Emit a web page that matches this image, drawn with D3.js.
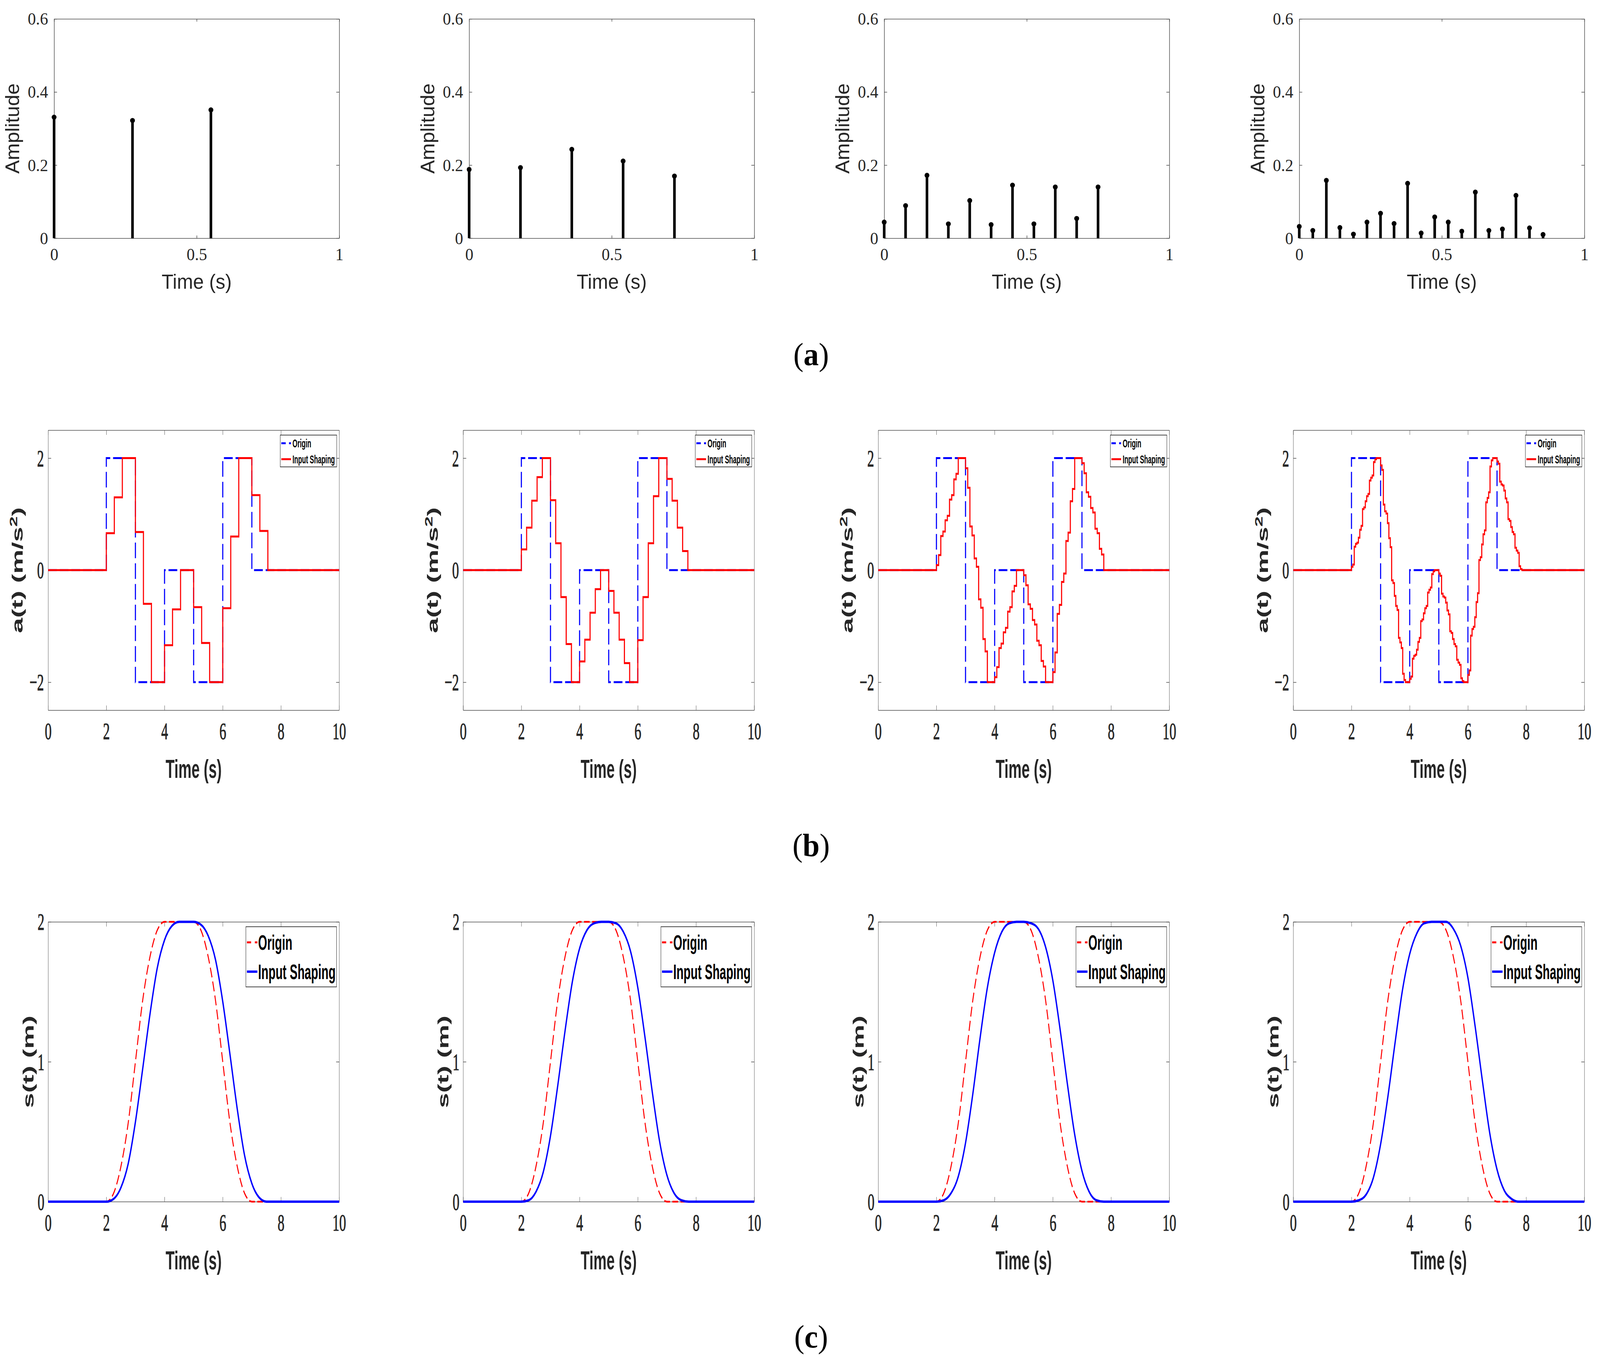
<!DOCTYPE html>
<html>
<head>
<meta charset="utf-8">
<script src="https://cdn.jsdelivr.net/npm/d3@7"></script>
<style>
  html, body { margin: 0; padding: 0; width: 100%; height: 100%; overflow: hidden; background: #fff; }
  #chart { width: 100vw; height: 100vh; }
</style>
</head>
<body>
<div id="chart"></div>
<script>
var W = 4304
var H = 3481

// ---------- data ----------
// (a) impulse sequences of the four shapers
var impulseTimes = [
  [0, 0.275, 0.55],
  [0, 0.18, 0.36, 0.54, 0.72],
  [0, 0.075, 0.15, 0.225, 0.3, 0.375, 0.45, 0.525, 0.6, 0.675, 0.75],
  [0, 0.0475, 0.095, 0.1425, 0.19, 0.2375, 0.285, 0.3325, 0.38, 0.4275, 0.475,
   0.5225, 0.57, 0.6175, 0.665, 0.7125, 0.76, 0.8075, 0.855]
]
var impulseAmps = [
  [0.331, 0.322, 0.351],
  [0.188, 0.193, 0.243, 0.211, 0.170],
  [0.044, 0.089, 0.172, 0.039, 0.103, 0.037, 0.145, 0.039, 0.140, 0.054, 0.140],
  [0.032, 0.021, 0.158, 0.029, 0.011, 0.044, 0.068, 0.040, 0.150, 0.014,
   0.058, 0.044, 0.019, 0.126, 0.021, 0.025, 0.117, 0.028, 0.010]
]
var ampTicks = [0, 0.2, 0.4, 0.6]
var impTimeTicks = [0, 0.5, 1]

// (b) acceleration: origin profile and shaped levels (one level per impulse, per edge at t = 2..7)
var accTimes = [0, 2, 3, 4, 5, 6, 7, 10]
var accOrigin = [0, 2, -2, 0, -2, 2, 0, 0]
var accShaped1 = [
  0.66, 1.30, 2,
  0.68, -0.60, -2,
  -1.34, -0.70, 0,
  -0.66, -1.30, -2,
  -0.68, 0.60, 2,
  1.34, 0.70, 0
]
var accShaped2 = [
  0.37, 0.76, 1.24, 1.66, 2,
  1.25, 0.48, -0.48, -1.32, -2,
  -1.63, -1.24, -0.76, -0.34, 0,
  -0.37, -0.76, -1.24, -1.66, -2,
  -1.25, -0.48, 0.48, 1.32, 2,
  1.63, 1.24, 0.76, 0.34, 0
]
var accShaped3 = [
  0.09, 0.27, 0.61, 0.69, 0.89, 0.97, 1.26, 1.34, 1.62, 1.72, 2,
  1.82, 1.47, 0.78, 0.62, 0.21, 0.06, -0.52, -0.67, -1.23, -1.45, -2,
  -1.91, -1.73, -1.39, -1.31, -1.11, -1.03, -0.74, -0.66, -0.38, -0.28, 0,
  -0.09, -0.27, -0.61, -0.69, -0.89, -0.97, -1.26, -1.34, -1.62, -1.72, -2,
  -1.82, -1.47, -0.78, -0.62, -0.21, -0.06, 0.52, 0.67, 1.23, 1.45, 2,
  1.91, 1.73, 1.39, 1.31, 1.11, 1.03, 0.74, 0.66, 0.38, 0.28, 0
]
var accShaped4 = [
  0.06, 0.10, 0.42, 0.47, 0.49, 0.58, 0.72, 0.79, 1.09, 1.12, 1.23, 1.32, 1.36, 1.60, 1.65, 1.69, 1.93, 1.98, 2,
  1.87, 1.79, 1.17, 1.05, 1.01, 0.84, 0.57, 0.41, -0.18, -0.23, -0.46, -0.64, -0.71, -1.21, -1.29, -1.39, -1.85, -1.96, -2,
  -1.94, -1.90, -1.58, -1.53, -1.51, -1.42, -1.28, -1.21, -0.91, -0.88, -0.77, -0.68, -0.64, -0.40, -0.35, -0.31, -0.07, -0.02, 0,
  -0.06, -0.10, -0.42, -0.47, -0.49, -0.58, -0.72, -0.79, -1.09, -1.12, -1.23, -1.32, -1.36, -1.60, -1.65, -1.69, -1.93, -1.98, -2,
  -1.87, -1.79, -1.17, -1.05, -1.01, -0.84, -0.57, -0.41, 0.18, 0.23, 0.46, 0.64, 0.71, 1.21, 1.29, 1.39, 1.85, 1.96, 2,
  1.94, 1.90, 1.58, 1.53, 1.51, 1.42, 1.28, 1.21, 0.91, 0.88, 0.77, 0.68, 0.64, 0.40, 0.35, 0.31, 0.07, 0.02, 0
]
var accShaped = [accShaped1, accShaped2, accShaped3, accShaped4]
var accTicks = [-2, 0, 2]
var timeTicks = [0, 2, 4, 6, 8, 10]

// (c) position
var posTimes = [0, 2, 2.25, 2.5, 2.75, 3, 3.25, 3.5, 3.75, 4, 4.25, 4.5, 4.75, 5,
  5.25, 5.5, 5.75, 6, 6.25, 6.5, 6.75, 7, 7.25, 7.5, 7.75, 8, 10]
var posOrigin = [0, 0, 0.06, 0.25, 0.56, 1.0, 1.44, 1.75, 1.94, 2, 2, 2, 2, 2,
  1.94, 1.75, 1.44, 1.0, 0.56, 0.25, 0.06, 0, 0, 0, 0, 0, 0]
var posShaped1 = [0, 0, 0.02, 0.10, 0.27, 0.57, 0.95, 1.34, 1.67, 1.87, 1.97, 2.0, 2, 2,
  1.98, 1.90, 1.73, 1.43, 1.05, 0.66, 0.33, 0.13, 0.03, 0, 0, 0, 0]
var posShaped2 = [0, 0, 0.01, 0.07, 0.21, 0.47, 0.83, 1.22, 1.57, 1.81, 1.94, 1.99, 2, 2,
  1.99, 1.93, 1.79, 1.53, 1.17, 0.78, 0.43, 0.19, 0.06, 0.01, 0, 0, 0]
var posShaped3 = [0, 0, 0.01, 0.06, 0.18, 0.42, 0.77, 1.17, 1.53, 1.78, 1.93, 1.99, 2, 2,
  1.99, 1.95, 1.82, 1.58, 1.23, 0.84, 0.48, 0.22, 0.07, 0.01, 0, 0, 0]
var posShaped4 = [0, 0, 0.01, 0.05, 0.17, 0.41, 0.75, 1.14, 1.51, 1.77, 1.92, 1.99, 2, 2,
  2, 1.95, 1.83, 1.60, 1.25, 0.86, 0.49, 0.23, 0.08, 0.02, 0, 0, 0]
var posShaped = [posShaped1, posShaped2, posShaped3, posShaped4]
var posTicks = [0, 1, 2]

var legendLabels = ["Origin", "Input Shaping"]
var captions = ["a", "b", "c"]

// ---------- layout ----------
var SX = 0.59   // rows (b) and (c) are squeezed horizontally in the original figure
var rowA = { x0: [145.5, 1262, 2378.5, 3495], w: 767, top: 48.3, bottom: 609.7 }
var rowB = { x0: [129.4, 1245.9, 2362.4, 3478.9], w: 783, top: 1100.9, bottom: 1817.8 }
var rowC = { x0: [129.4, 1245.9, 2362.4, 3478.9], w: 783, top: 2359.5, bottom: 3075.8 }
var captionY = [935, 2191, 3449]

var axisColor = "#4d4d4d"
var textColor = "#262626"
var sansFont = "'Liberation Sans', Arial, Helvetica, sans-serif"
var serifFont = "'Liberation Serif', 'Times New Roman', serif"
var fmt = d3.format("~g")

// the drawing is laid out on a 4304 x 3481 grid and stretched to fill the window
var svg = d3.select("#chart").append("svg")
    .attr("viewBox", "0 0 " + W + " " + H)
    .attr("preserveAspectRatio", "none")
    .attr("width", "100%")
    .attr("height", "100%")
    .style("display", "block")
    .style("background", "#fff")

// box with inward ticks on all four sides, labels on left / bottom
function drawFrame(g, x, y, o) {
  var yb = y.range()[0], yt = y.range()[1]
  var xl = x.range()[0], xr = x.range()[1]

  var bottom = g.append("g").attr("transform", "translate(0," + yb + ")")
      .call(d3.axisBottom(x).tickValues(o.xTicks).tickFormat(fmt).tickSizeInner(-o.xTickLen).tickSizeOuter(0))
  bottom.selectAll(".tick text").attr("y", o.xLabelOff).attr("dy", "0.35em")

  var top = g.append("g").attr("transform", "translate(0," + yt + ")")
      .call(d3.axisTop(x).tickValues(o.xTicks).tickFormat("").tickSizeInner(-o.xTickLen).tickSizeOuter(0))

  var left = g.append("g").attr("transform", "translate(" + xl + ",0)")
      .call(d3.axisLeft(y).tickValues(o.yTicks).tickFormat(fmt).tickSizeInner(-o.yTickLen).tickSizeOuter(0))
  left.selectAll(".tick text").attr("x", -o.yLabelGap).attr("dy", "0.33em")

  var right = g.append("g").attr("transform", "translate(" + xr + ",0)")
      .call(d3.axisRight(y).tickValues(o.yTicks).tickFormat("").tickSizeInner(-o.yTickLen).tickSizeOuter(0))

  ;[bottom, top, left, right].forEach(function (a) {
    a.attr("font-family", serifFont).attr("font-size", o.fontSize)
    a.select(".domain").attr("stroke", axisColor).attr("stroke-width", o.lw)
    a.selectAll(".tick line").attr("stroke", axisColor).attr("stroke-width", o.lw)
    a.selectAll(".tick text")
        .attr("fill", textColor)
        .attr("stroke", o.textStroke ? textColor : null)
        .attr("stroke-width", o.textStroke || null)
  })
}

function drawLegend(g, right, top, o, entries) {
  var left = right - o.w
  var lg = g.append("g")
  lg.append("rect")
      .attr("x", left).attr("y", top)
      .attr("width", o.w).attr("height", o.h)
      .attr("fill", "#fff")
      .attr("stroke", "#1a1a1a")
      .attr("stroke-width", o.boxLw)
  entries.forEach(function (e, i) {
    var ly = top + o.rowY[i]
    lg.append("line")
        .attr("x1", left + o.lineX[0]).attr("x2", left + o.lineX[1])
        .attr("y1", ly).attr("y2", ly)
        .attr("stroke", e.color)
        .attr("stroke-width", e.width)
        .attr("stroke-dasharray", e.dash)
    lg.append("text")
        .attr("x", left + o.textX)
        .attr("y", ly + o.baseOff)
        .attr("font-family", sansFont)
        .attr("font-size", o.fontSize)
        .attr("font-weight", "bold")
        .attr("fill", "#000")
        .text(e.label)
  })
}

// ---------- row (a): stem plots ----------
rowA.x0.forEach(function (x0, p) {
  var g = svg.append("g")
  var x = d3.scaleLinear().domain([0, 1]).range([x0, x0 + rowA.w])
  var y = d3.scaleLinear().domain([0, 0.6]).range([rowA.bottom, rowA.top])

  drawFrame(g, x, y, {
    xTicks: impTimeTicks, yTicks: ampTicks,
    xTickLen: 7, yTickLen: 8, xLabelOff: 41, yLabelGap: 16,
    fontSize: 44, lw: 1.5
  })

  var stems = impulseTimes[p].map(function (t, i) { return [t, impulseAmps[p][i]] })
  g.selectAll(".stem").data(stems).enter().append("line")
      .attr("x1", function (d) { return x(d[0]) })
      .attr("x2", function (d) { return x(d[0]) })
      .attr("y1", y(0))
      .attr("y2", function (d) { return y(d[1]) })
      .attr("stroke", "#000")
      .attr("stroke-width", 7)
  g.selectAll(".dot").data(stems).enter().append("circle")
      .attr("cx", function (d) { return x(d[0]) })
      .attr("cy", function (d) { return y(d[1]) })
      .attr("r", 6.5)
      .attr("fill", "#000")

  g.append("text")
      .attr("x", x0 + rowA.w / 2).attr("y", 739)
      .attr("text-anchor", "middle")
      .attr("font-family", sansFont).attr("font-size", 52)
      .attr("fill", textColor)
      .text("Time (s)")
  var ly = (rowA.top + rowA.bottom) / 2
  g.append("text")
      .attr("transform", "translate(" + (x0 - 94) + "," + ly + ") rotate(-90)")
      .attr("text-anchor", "middle")
      .attr("font-family", sansFont).attr("font-size", 52)
      .attr("fill", textColor)
      .text("Amplitude")
})

// ---------- row (b): acceleration ----------
var gB = svg.append("g").attr("transform", "scale(" + SX + ",1)")
rowB.x0.forEach(function (x0r, p) {
  var x0 = x0r / SX, w = rowB.w / SX
  var g = gB.append("g")
  var x = d3.scaleLinear().domain([0, 10]).range([x0, x0 + w])
  var y = d3.scaleLinear().domain([-2.5, 2.5]).range([rowB.bottom, rowB.top])

  drawFrame(g, x, y, {
    xTicks: timeTicks, yTicks: accTicks,
    xTickLen: 12, yTickLen: 14, xLabelOff: 53, yLabelGap: 19,
    fontSize: 62, lw: 1.5, textStroke: 1.2
  })

  var line = d3.line()
      .x(function (d) { return x(d[0]) })
      .y(function (d) { return y(d[1]) })
      .curve(d3.curveStepAfter)

  var origin = accTimes.map(function (t, i) { return [t, accOrigin[i]] })
  var taus = impulseTimes[p]
  var shaped = [[0, 0]]
  accTimes.slice(1, 7).forEach(function (T, j) {
    taus.forEach(function (tau, k) { shaped.push([T + tau, accShaped[p][j * taus.length + k]]) })
  })
  shaped.push([10, 0])

  g.append("path").datum(origin)
      .attr("d", line)
      .attr("fill", "none")
      .attr("stroke", "#0000ff")
      .attr("stroke-width", 5)
      .attr("stroke-dasharray", "40,13")
  g.append("path").datum(shaped)
      .attr("d", line)
      .attr("fill", "none")
      .attr("stroke", "#ff0000")
      .attr("stroke-width", 5)

  drawLegend(g, x0 + w - 11.2, rowB.top + 12.7, {
    w: 257.6, h: 81.4, rowY: [21, 61.7], lineX: [5, 49], textX: 56,
    fontSize: 29, baseOff: 10.5, boxLw: 1.6
  }, [
    { label: legendLabels[0], color: "#0000ff", width: 5, dash: "20,15" },
    { label: legendLabels[1], color: "#ff0000", width: 5, dash: null }
  ])

  g.append("text")
      .attr("x", x0 + w / 2).attr("y", rowB.bottom + 173)
      .attr("text-anchor", "middle")
      .attr("font-family", sansFont).attr("font-size", 67)
      .attr("font-weight", "bold")
      .attr("fill", textColor)
      .text("Time (s)")
  var ly = (rowB.top + rowB.bottom) / 2
  var yl = g.append("text")
      .attr("transform", "translate(" + (x0 - 116) + "," + ly + ") rotate(-90)")
      .attr("text-anchor", "middle")
      .attr("font-family", sansFont).attr("font-size", 70)
      .attr("font-weight", "bold")
      .attr("fill", textColor)
  yl.append("tspan").text("a(t) (m/s")
  yl.append("tspan").attr("font-size", 48).attr("dy", -25).text("2")
  yl.append("tspan").attr("dy", 25).text(")")
})

// ---------- row (c): position ----------
var gC = svg.append("g").attr("transform", "scale(" + SX + ",1)")
rowC.x0.forEach(function (x0r, p) {
  var x0 = x0r / SX, w = rowC.w / SX
  var g = gC.append("g")
  var x = d3.scaleLinear().domain([0, 10]).range([x0, x0 + w])
  var y = d3.scaleLinear().domain([0, 2]).range([rowC.bottom, rowC.top])

  drawFrame(g, x, y, {
    xTicks: timeTicks, yTicks: posTicks,
    xTickLen: 12, yTickLen: 14, xLabelOff: 53, yLabelGap: 17,
    fontSize: 62, lw: 1.5, textStroke: 1.2
  })

  var line = d3.line()
      .x(function (d) { return x(d[0]) })
      .y(function (d) { return y(d[1]) })
      .curve(d3.curveMonotoneX)

  var origin = posTimes.map(function (t, i) { return [t, posOrigin[i]] })
  var shaped = posTimes.map(function (t, i) { return [t, posShaped[p][i]] })

  g.append("path").datum(origin)
      .attr("d", line)
      .attr("fill", "none")
      .attr("stroke", "#ff0000")
      .attr("stroke-width", 4.5)
      .attr("stroke-dasharray", "26,11")
  g.append("path").datum(shaped)
      .attr("d", line)
      .attr("fill", "none")
      .attr("stroke", "#0000ff")
      .attr("stroke-width", 6)

  drawLegend(g, x0 + w - 11.9, rowC.top + 12.5, {
    w: 413.6, h: 154, rowY: [40, 115], lineX: [5, 52.5], textX: 56,
    fontSize: 53, baseOff: 19, boxLw: 1.6
  }, [
    { label: legendLabels[0], color: "#ff0000", width: 5, dash: "19,17" },
    { label: legendLabels[1], color: "#0000ff", width: 6, dash: null }
  ])

  g.append("text")
      .attr("x", x0 + w / 2).attr("y", rowC.bottom + 173)
      .attr("text-anchor", "middle")
      .attr("font-family", sansFont).attr("font-size", 67)
      .attr("font-weight", "bold")
      .attr("fill", textColor)
      .text("Time (s)")
  var ly = (rowC.top + rowC.bottom) / 2
  g.append("text")
      .attr("transform", "translate(" + (x0 - 67) + "," + ly + ") rotate(-90)")
      .attr("text-anchor", "middle")
      .attr("font-family", sansFont).attr("font-size", 70)
      .attr("font-weight", "bold")
      .attr("fill", textColor)
      .text("s(t) (m)")
})

// ---------- sub-figure captions ----------
captions.forEach(function (c, i) {
  var t = svg.append("text")
      .attr("x", 2182).attr("y", captionY[i])
      .attr("text-anchor", "middle")
      .attr("font-family", serifFont).attr("font-size", 82)
      .attr("fill", "#000")
  t.append("tspan").text("(")
  t.append("tspan").attr("font-weight", "bold").text(c)
  t.append("tspan").text(")")
})
</script>
</body>
</html>
